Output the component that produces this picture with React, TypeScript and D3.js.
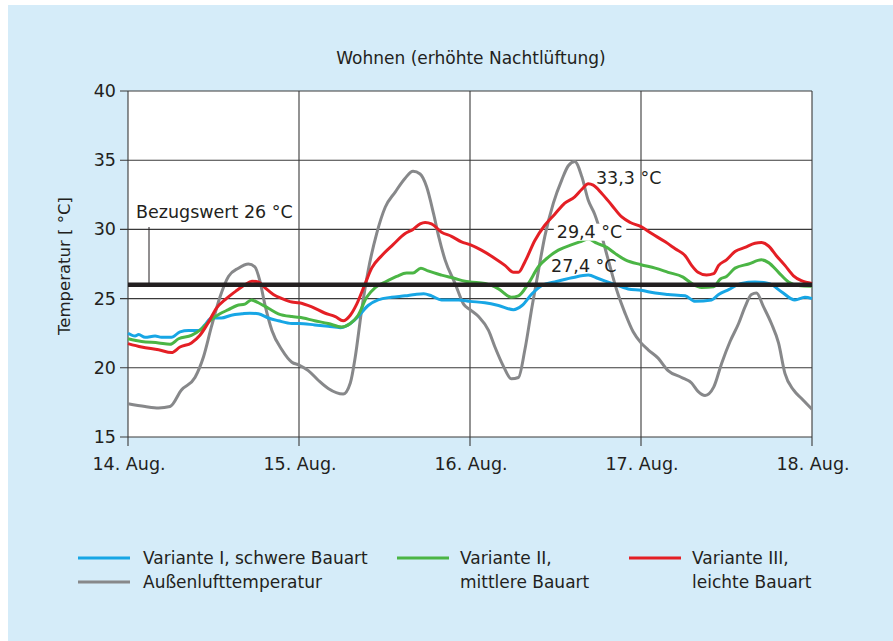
import { useEffect, useRef } from 'react';
import * as d3 from 'd3';

// Zeit in Stunden ab 14. Aug. 0:00, Temperaturen in °C
const outdoorHours = [0, 2.4, 4.3, 5.9, 7.5, 9.4, 10.6, 11.7, 12.9, 14.1, 15.5, 16.9, 17.8, 18.5, 19.2, 20.2, 21.6, 23, 24, 25.3, 26.7, 28.1, 30.2, 31.2, 31.9, 32.8, 33.7, 34.9, 36.1, 37.5, 38.9, 40, 41, 41.9, 42.9, 43.6, 44.5, 45.9, 47.1, 48, 49.2, 50.6, 51.5, 52.7, 53.8, 54.8, 55.7, 56.7, 57.6, 58.5, 59.7, 60.9, 61.8, 62.7, 63.7, 64.6, 65.5, 66.5, 67.4, 68.6, 69.8, 70.9, 72, 73, 74.4, 75.8, 77.7, 79.1, 80, 81, 82.2, 83.3, 84.5, 85.7, 86.6, 87.5, 88.2, 89.2, 90.3, 91.3, 92.2, 93.4, 94.5, 96];
const outdoorTemp = [17.4, 17.2, 17.1, 17.2, 18.4, 19.3, 20.8, 22.95, 25.1, 26.6, 27.2, 27.5, 27.3, 26.3, 24.6, 22.7, 21.3, 20.4, 20.2, 19.8, 19.1, 18.5, 18.1, 18.9, 20.8, 24.2, 27.0, 29.7, 31.6, 32.7, 33.7, 34.2, 34.0, 33.1, 31.1, 29.5, 27.8, 26.1, 24.6, 24.2, 23.7, 22.7, 21.5, 20.1, 19.2, 19.3, 21.3, 24.4, 27.0, 29.5, 31.9, 33.6, 34.6, 34.9, 33.8, 32.1, 31.1, 29.5, 27.8, 25.6, 23.9, 22.6, 21.8, 21.3, 20.7, 19.8, 19.3, 18.9, 18.3, 18.0, 18.6, 20.3, 21.9, 23.2, 24.4, 25.3, 25.4, 24.4, 23.2, 21.8, 19.6, 18.4, 17.8, 17.0];

const heavyHours = [0, 1, 1.5, 2.4, 3.8, 4.7, 6.1, 7.3, 8.5, 9.9, 10.8, 11.7, 13.1, 14.5, 16, 17.1, 18.3, 19.7, 21.1, 23, 24, 26.2, 28.1, 29.8, 30.9, 32.3, 33.7, 35.1, 37, 38.9, 40.3, 41.5, 42.6, 44, 46.4, 48, 50.1, 52, 54.1, 55.3, 56.7, 58.1, 59.9, 62.3, 64.6, 66, 67.9, 70.2, 72, 74, 75.8, 78.2, 79.6, 81.9, 82.9, 84.3, 86.1, 88, 89.9, 91.7, 93.6, 95, 96];
const heavyTemp = [22.5, 22.3, 22.4, 22.2, 22.3, 22.2, 22.2, 22.6, 22.7, 22.7, 23.1, 23.6, 23.6, 23.8, 23.9, 23.95, 23.9, 23.6, 23.4, 23.2, 23.2, 23.1, 23.0, 22.9, 23.1, 23.7, 24.5, 24.9, 25.1, 25.2, 25.3, 25.35, 25.2, 24.9, 24.9, 24.8, 24.7, 24.5, 24.2, 24.5, 25.35, 25.95, 26.2, 26.5, 26.7, 26.45, 26.1, 25.7, 25.6, 25.4, 25.3, 25.2, 24.8, 24.9, 25.3, 25.65, 26.1, 26.2, 26.1, 25.5, 24.9, 25.1, 25.0];

const mediumHours = [0, 1.9, 4.3, 5.9, 7.1, 8.9, 10.3, 11.5, 12.9, 14.1, 15.3, 16.4, 17.3, 18.3, 19.7, 21.1, 23, 24, 26.2, 28.1, 30, 31.2, 32.3, 33.5, 34.7, 36.1, 37.7, 39.1, 40, 41.1, 42.1, 44, 45.9, 47.3, 48, 50.1, 52, 53.8, 54.8, 56.2, 57.6, 59, 60.4, 62.3, 63.4, 64.6, 65.8, 67.2, 68.4, 69.8, 72, 74, 75.8, 77.9, 79.1, 80.5, 82.2, 83.1, 84, 85.2, 87.1, 88.9, 89.9, 91.3, 92.7, 94.1, 96];
const mediumTemp = [22.1, 21.9, 21.8, 21.7, 22.1, 22.35, 22.8, 23.4, 23.9, 24.2, 24.5, 24.6, 24.9, 24.7, 24.3, 23.9, 23.7, 23.65, 23.4, 23.2, 22.95, 23.2, 23.8, 25.1, 25.8, 26.2, 26.6, 26.85, 26.85, 27.2, 27.0, 26.7, 26.45, 26.25, 26.2, 26.1, 25.7, 25.1, 25.2, 26.1, 27.3, 28.0, 28.5, 28.9, 29.1, 29.3, 29.0, 28.7, 28.25, 27.8, 27.45, 27.2, 26.9, 26.55, 26.1, 25.8, 25.85, 26.4, 26.6, 27.2, 27.5, 27.8, 27.6, 26.9, 26.2, 25.95, 25.9];

const lightHours = [0, 1.9, 4.3, 6.1, 7.3, 8.9, 10.1, 11.3, 12.4, 13.8, 15.3, 16.4, 17.4, 18.3, 19.2, 20.4, 21.6, 23, 24, 25.8, 27.6, 29.1, 30.2, 31.2, 32.1, 33.3, 34.2, 35.6, 37.2, 38.9, 40, 41, 41.7, 42.6, 44, 45.4, 46.8, 48, 49.6, 51.5, 52.9, 54.1, 54.8, 55.7, 57.1, 58.5, 59.9, 61.3, 62.7, 63.7, 64.6, 65.3, 66.5, 67.9, 69.3, 70.5, 72, 73.5, 75.4, 76.8, 78.2, 79.1, 80, 81.2, 82.2, 82.9, 84, 85.2, 86.6, 88, 88.9, 89.9, 91, 92.2, 93.4, 94.5, 96];
const lightTemp = [21.75, 21.5, 21.3, 21.1, 21.5, 21.8, 22.35, 23.3, 24.3, 25.0, 25.6, 26.0, 26.25, 26.2, 25.8, 25.3, 25.0, 24.75, 24.7, 24.4, 23.96, 23.7, 23.4, 23.8, 24.6, 26.1, 27.2, 28.1, 28.9, 29.7, 30.0, 30.4, 30.5, 30.4, 29.8, 29.5, 29.1, 28.9, 28.5, 27.9, 27.4, 26.9, 26.9, 27.65, 29.2, 30.3, 31.1, 31.9, 32.35, 32.9, 33.3, 33.2, 32.6, 31.75, 30.9, 30.5, 30.2, 29.7, 29.1, 28.6, 28.1, 27.4, 26.9, 26.7, 26.8, 27.4, 27.8, 28.4, 28.7, 29.0, 29.05, 28.8, 28.1, 27.4, 26.65, 26.3, 26.1];

const dayLabels = ['14. Aug.', '15. Aug.', '16. Aug.', '17. Aug.', '18. Aug.'];
const dayTicks = [0, 24, 48, 72, 96];
const tempTicks = [15, 20, 25, 30, 35, 40];
const referenceValue = 26;

const peakLabels = ['33,3 °C', '29,4 °C', '27,4 °C'];
const peakValues = [33.3, 29.4, 27.4];
const peakHours = [65.4, 59.9, 59.1];

const seriesNames = ['Variante I, schwere Bauart', 'Variante II,', 'Variante III,'];

export default function App() {
  const svgRef = useRef<SVGSVGElement>(null);

  useEffect(() => {
    if (!svgRef.current) return;
    const svg = d3.select(svgRef.current);
    svg.selectAll('*').remove();

    const W = 893, H = 641;
    const left = 128, right = 812, top = 91, bottom = 437;
    const font = '"DejaVu Sans", Verdana, sans-serif';
    const ink = '#231f20';

    svg.append('rect').attr('width', W).attr('height', H).attr('fill', '#fff');
    svg.append('rect').attr('x', 8).attr('y', 5).attr('width', W - 8).attr('height', H - 5).attr('fill', '#d5ecf9');

    const x = d3.scaleLinear().domain([0, 96]).range([left, right]);
    const y = d3.scaleLinear().domain([15, 40]).range([bottom, top]);

    svg.append('rect')
      .attr('x', left).attr('y', top)
      .attr('width', right - left).attr('height', bottom - top)
      .attr('fill', '#fff');

    // Gitter
    const grid = svg.append('g').attr('stroke', '#3a3a3a').attr('stroke-width', 1.1);
    grid.selectAll('line.h')
      .data(tempTicks)
      .enter().append('line')
      .attr('x1', left - 8).attr('x2', right)
      .attr('y1', d => y(d)).attr('y2', d => y(d));
    grid.selectAll('line.v')
      .data(dayTicks)
      .enter().append('line')
      .attr('x1', d => x(d)).attr('x2', d => x(d))
      .attr('y1', top).attr('y2', bottom + 9);

    // Achsenbeschriftung
    svg.append('g').selectAll('text')
      .data(tempTicks)
      .enter().append('text')
      .attr('x', left - 12).attr('y', d => y(d) + 6)
      .attr('text-anchor', 'end')
      .attr('font-family', font).attr('font-size', 17.5).attr('fill', ink)
      .text(d => d);

    svg.append('g').selectAll('text')
      .data(dayTicks)
      .enter().append('text')
      .attr('x', d => x(d) + 1).attr('y', bottom + 33)
      .attr('text-anchor', 'middle')
      .attr('font-family', font).attr('font-size', 17.5).attr('fill', ink)
      .text((d, i) => dayLabels[i]);

    svg.append('text')
      .attr('transform', `translate(70,${(top + bottom) / 2 + 2}) rotate(-90)`)
      .attr('text-anchor', 'middle')
      .attr('font-family', font).attr('font-size', 16.5).attr('fill', ink)
      .text('Temperatur [ °C]');

    svg.append('text')
      .attr('x', (left + right) / 2 + 1).attr('y', 64)
      .attr('text-anchor', 'middle')
      .attr('font-family', font).attr('font-size', 17).attr('fill', ink)
      .text('Wohnen (erhöhte Nachtlüftung)');

    // Kurven
    const line = d3.line<[number, number]>()
      .x(d => x(d[0]))
      .y(d => y(d[1]))
      .curve(d3.curveMonotoneX);

    const series = [
      { h: outdoorHours, v: outdoorTemp, color: '#87888a' },
      { h: heavyHours, v: heavyTemp, color: '#17a6e5' },
      { h: mediumHours, v: mediumTemp, color: '#4bb545' },
      { h: lightHours, v: lightTemp, color: '#e41f25' },
    ];

    series.forEach(s => {
      svg.append('path')
        .datum(s.h.map((h, i) => [h, s.v[i]] as [number, number]))
        .attr('d', line)
        .attr('fill', 'none')
        .attr('stroke', s.color)
        .attr('stroke-width', 3)
        .attr('stroke-linejoin', 'round');
    });

    // Bezugswert
    svg.append('line')
      .attr('x1', left).attr('x2', right)
      .attr('y1', y(referenceValue)).attr('y2', y(referenceValue))
      .attr('stroke', '#231f20').attr('stroke-width', 4.5);
    svg.append('line')
      .attr('x1', 149).attr('x2', 149)
      .attr('y1', 227).attr('y2', y(referenceValue))
      .attr('stroke', '#231f20').attr('stroke-width', 1);
    svg.append('text')
      .attr('x', 136).attr('y', 218)
      .attr('font-family', font).attr('font-size', 17.5).attr('fill', ink)
      .text('Bezugswert 26 °C');

    // Spitzenwerte
    const peaks = svg.append('g');
    const peakDy = [0, 0, 7];
    peakLabels.forEach((label, i) => {
      const t = peaks.append('text')
        .attr('x', x(peakHours[i]) + 2)
        .attr('y', y(peakValues[i]) + peakDy[i])
        .attr('font-family', font).attr('font-size', 17.5).attr('fill', ink)
        .text(label);
      if (i === 1) {
        const b = (t.node() as SVGTextElement).getBBox();
        peaks.insert('rect', 'text')
          .attr('x', b.x - 3).attr('y', b.y + 2)
          .attr('width', b.width + 7).attr('height', b.height - 3)
          .attr('fill', '#fff');
      }
    });

    // Legende
    const legend = svg.append('g').attr('font-family', font).attr('font-size', 17).attr('fill', ink);
    const legendItems = [
      { x: 78, tx: 143, y: 558, color: '#17a6e5', lines: [seriesNames[0]] },
      { x: 78, tx: 143, y: 582, color: '#87888a', lines: ['Außenlufttemperatur'] },
      { x: 397, tx: 460, y: 558, color: '#4bb545', lines: [seriesNames[1], 'mittlere Bauart'] },
      { x: 629, tx: 692, y: 558, color: '#e41f25', lines: [seriesNames[2], 'leichte Bauart'] },
    ];
    legendItems.forEach(item => {
      legend.append('line')
        .attr('x1', item.x).attr('x2', item.x + 52)
        .attr('y1', item.y).attr('y2', item.y)
        .attr('stroke', item.color).attr('stroke-width', 3);
      item.lines.forEach((l, j) => {
        legend.append('text')
          .attr('x', item.tx).attr('y', item.y + 6 + j * 24)
          .text(l);
      });
    });
  }, []);

  return (
    <svg
      ref={svgRef}
      width={893}
      height={641}
      style={{ position: 'absolute', left: 0, top: 0, display: 'block' }}
    />
  );
}
